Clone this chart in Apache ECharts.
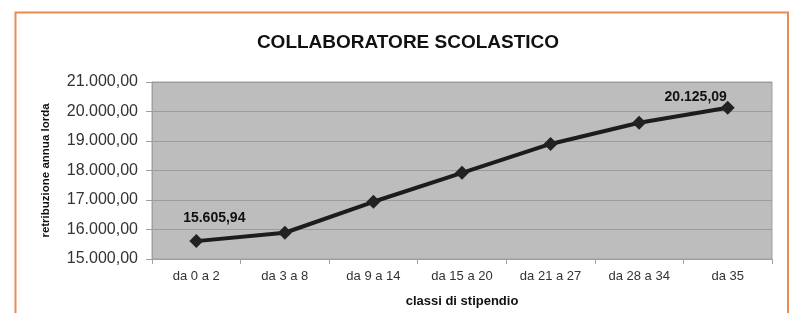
<!DOCTYPE html>
<html lang="it">
<head>
    <meta charset="utf-8">
    <title>Collaboratore scolastico</title>
    <script src="https://cdn.jsdelivr.net/npm/echarts@6/dist/echarts.min.js"></script>
    <style>
        html, body { margin: 0; padding: 0; background: #fff; }
        #chart { width: 792px; height: 313px; }
    </style>
</head>
<body>
<div id="chart"></div>
<script>
    // classi di stipendio e retribuzione annua lorda
    var categories = ['da 0 a 2', 'da 3 a 8', 'da 9 a 14', 'da 15 a 20', 'da 21 a 27', 'da 28 a 34', 'da 35'];
    var values = [15605.94, 15890, 16940, 17920, 18900, 19620, 20125.09];
    // solo il primo e l'ultimo punto hanno l'etichetta
    var labelled = [0, 6];
    var labelOffsets = [[18, -23], [-32, -11]];
    var yMin = 15000, yMax = 21000, yStep = 1000;

    function fmt(v) {
        var parts = v.toFixed(2).split('.');
        parts[0] = parts[0].replace(/\B(?=(\d{3})+(?!\d))/g, '.');
        return parts[0] + ',' + parts[1];
    }

    var seriesData = values.map(function (v, i) {
        var k = labelled.indexOf(i);
        if (k < 0) return v;
        return {
            value: v,
            label: {
                show: true,
                position: 'inside',
                offset: labelOffsets[k],
                formatter: fmt(v)
            }
        };
    });

    var chart = echarts.init(document.getElementById('chart'));
    chart.setOption({
        animation: false,
        backgroundColor: '#fff',
        textStyle: { fontFamily: '"Liberation Sans", Arial, sans-serif' },
        title: {
            text: 'COLLABORATORE SCOLASTICO',
            left: 403,
            textAlign: 'center',
            top: 28,
            textStyle: { fontSize: 19, fontWeight: 'bold', color: '#111' }
        },
        graphic: [{
            type: 'rect',
            shape: { x: 15.5, y: 12.5, width: 772.5, height: 320 },
            style: { fill: 'none', stroke: '#e98a4f', lineWidth: 2 },
            silent: true
        }],
        grid: {
            left: 152, right: 20, top: 82, bottom: 53,
            show: true,
            backgroundColor: '#bdbdbd',
            borderColor: '#a0a0a0',
            borderWidth: 1
        },
        xAxis: {
            type: 'category',
            data: categories,
            boundaryGap: true,
            name: 'classi di stipendio',
            nameLocation: 'middle',
            nameGap: 36,
            nameTextStyle: { fontSize: 13, fontWeight: 'bold', color: '#111' },
            axisLine: { lineStyle: { color: '#a0a0a0' } },
            axisTick: { show: true, length: 5, lineStyle: { color: '#a0a0a0' } },
            axisLabel: { fontSize: 13, color: '#333', margin: 11 }
        },
        yAxis: {
            type: 'value',
            min: yMin,
            max: yMax,
            interval: yStep,
            name: 'retribuzione annua lorda',
            nameLocation: 'middle',
            nameRotate: 90,
            nameGap: 100,
            nameTextStyle: { fontSize: 11.5, fontWeight: 'bold', color: '#111' },
            axisLine: { show: true, lineStyle: { color: '#a0a0a0' } },
            axisTick: { show: true, length: 6, lineStyle: { color: '#a0a0a0' } },
            splitLine: { lineStyle: { color: '#9c9c9c', width: 1 } },
            axisLabel: { fontSize: 16, color: '#333', margin: 14, formatter: fmt }
        },
        series: [{
            type: 'line',
            data: seriesData,
            symbol: 'diamond',
            symbolSize: 14,
            lineStyle: { color: '#1c1c1c', width: 4 },
            itemStyle: { color: '#222' },
            label: { show: false, fontSize: 14, fontWeight: 'bold', color: '#111' }
        }]
    });
</script>
</body>
</html>
